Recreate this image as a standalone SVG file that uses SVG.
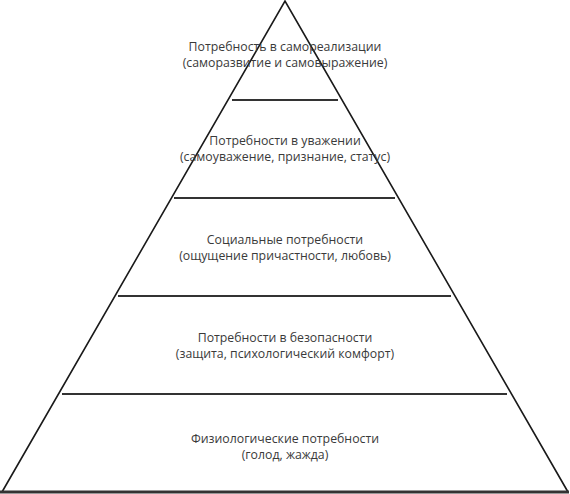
<svg xmlns="http://www.w3.org/2000/svg" width="570" height="494" viewBox="0 0 570 494">
<style>
.side{stroke:#1a1a1a;stroke-width:1.6;fill:none}
.div{stroke:#333;stroke-width:2;fill:none}
.base{stroke:#333;stroke-width:3;fill:none}
text{font-family:"Open Sans","Noto Sans","DejaVu Sans",sans-serif;font-size:12.3px;fill:#3a3a3a;text-anchor:middle}
</style>
<rect width="570" height="494" fill="#fff"/>
<g id="connectors">
<path class="side" d="M2,492 L285,1 L568,492"/>
<line class="base" x1="0" y1="492" x2="569" y2="492"/>
<line class="div" x1="232" y1="100" x2="338" y2="100"/>
<line class="div" x1="174" y1="198" x2="395" y2="198"/>
<line class="div" x1="118" y1="296" x2="451" y2="296"/>
<line class="div" x1="62" y1="394" x2="507" y2="394"/>
</g>
<g id="level5"><text x="285" y="51">Потребность в самореализации</text><text x="285" y="67">(саморазвитие и самовыражение)</text></g>
<g id="level4"><text x="285" y="145">Потребности в уважении</text><text x="285" y="161">(самоуважение, признание, статус)</text></g>
<g id="level3"><text x="285" y="244">Социальные потребности</text><text x="285" y="260">(ощущение причастности, любовь)</text></g>
<g id="level2"><text x="285" y="342">Потребности в безопасности</text><text x="285" y="358">(защита, психологический комфорт)</text></g>
<g id="level1"><text x="285" y="443">Физиологические потребности</text><text x="285" y="459">(голод, жажда)</text></g>
</svg>
